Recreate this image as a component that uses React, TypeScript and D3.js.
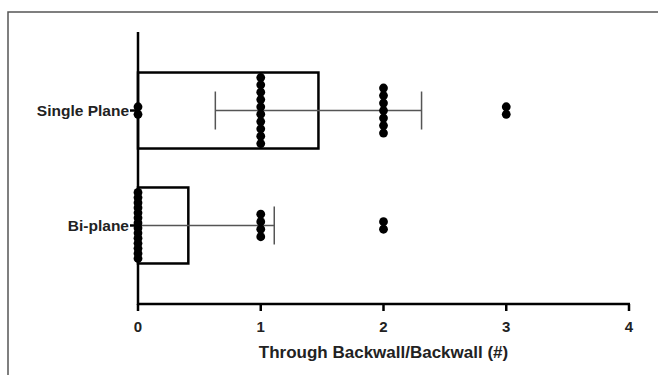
import React from "react";
import * as d3 from "d3";

const categories = ["Single Plane", "Bi-plane"];
const means = [1.47, 0.41];
const sds = [0.84, 0.7];
// individual observations per group
const singlePlaneValues = [0, 0, 1, 1, 1, 1, 1, 1, 1, 1, 1, 1, 2, 2, 2, 2, 2, 2, 2, 3, 3];
const biPlaneValues = [0, 0, 0, 0, 0, 0, 0, 0, 0, 0, 0, 0, 0, 0, 1, 1, 1, 1, 2, 2];
const groupValues = [singlePlaneValues, biPlaneValues];
const xTicks = [0, 1, 2, 3, 4];
const xTitle = "Through Backwall/Backwall (#)";

const W = 658;
const H = 375;

export default function App() {
  const x = d3.scaleLinear().domain([0, 4]).range([138, 629]);
  const y = d3.scalePoint().domain(categories).range([32, 304]).padding(0.683);
  const boxH = 76;
  const capH = 38;
  const r = 4.4;
  const font = "Arial, 'Liberation Sans', Helvetica, sans-serif";

  const dots: { cx: number; cy: number; key: string }[] = [];
  groupValues.forEach((vals, gi) => {
    const cy0 = y(categories[gi]) as number;
    const counts = d3.rollup(vals, (v) => v.length, (d) => d);
    counts.forEach((n, v) => {
      const step = n > 1 ? Math.min(7.5, 66 / (n - 1)) : 0;
      for (let i = 0; i < n; i++) {
        dots.push({ cx: x(v), cy: cy0 + (i - (n - 1) / 2) * step, key: `${gi}-${v}-${i}` });
      }
    });
  });

  return (
    <svg width={W} height={H} style={{ position: "absolute", left: 0, top: 0, background: "#fff" }}>
      <rect x={0} y={0} width={W} height={H} fill="#fff" />
      {/* frame */}
      <path d={`M8,${H} L8,12 L${W},12`} fill="none" stroke="#555" strokeWidth={1.5} />

      {/* bars */}
      {categories.map((c, i) => {
        const cy = y(c) as number;
        return (
          <rect key={c} x={x(0)} y={cy - boxH / 2} width={x(means[i]) - x(0)} height={boxH}
            fill="#fff" stroke="#000" strokeWidth={2.5} />
        );
      })}

      {/* error bars */}
      {categories.map((c, i) => {
        const cy = y(c) as number;
        const lo = Math.max(0, means[i] - sds[i]);
        const hi = means[i] + sds[i];
        return (
          <g key={c} stroke="#555" strokeWidth={1.5}>
            <line x1={x(lo)} x2={x(hi)} y1={cy} y2={cy} />
            {means[i] - sds[i] > 0 && <line x1={x(lo)} x2={x(lo)} y1={cy - capH / 2} y2={cy + capH / 2} />}
            <line x1={x(hi)} x2={x(hi)} y1={cy - capH / 2} y2={cy + capH / 2} />
          </g>
        );
      })}

      {/* axes */}
      <line x1={x(0)} x2={x(0)} y1={32} y2={305} stroke="#000" strokeWidth={2.5} />
      <line x1={x(0) - 1} x2={x(4) + 1} y1={304} y2={304} stroke="#000" strokeWidth={2.5} />
      {xTicks.map((t) => (
        <g key={t}>
          <line x1={x(t)} x2={x(t)} y1={304} y2={311} stroke="#000" strokeWidth={2.5} />
          <text x={x(t)} y={332} textAnchor="middle" fontFamily={font} fontWeight="bold" fontSize={15} fill="#222">
            {t}
          </text>
        </g>
      ))}
      {categories.map((c) => {
        const cy = y(c) as number;
        return (
          <g key={c}>
            <line x1={x(0) - 8} x2={x(0)} y1={cy} y2={cy} stroke="#000" strokeWidth={2.5} />
            <text x={x(0) - 9} y={cy + 5.5} textAnchor="end" fontFamily={font} fontWeight="bold" fontSize={15.5} fill="#222">
              {c}
            </text>
          </g>
        );
      })}
      <text x={x(2)} y={358} textAnchor="middle" fontFamily={font} fontWeight="bold" fontSize={17} fill="#222">
        {xTitle}
      </text>

      {/* dots */}
      {dots.map((d) => (
        <circle key={d.key} cx={d.cx} cy={d.cy} r={r} fill="#000" />
      ))}
    </svg>
  );
}
